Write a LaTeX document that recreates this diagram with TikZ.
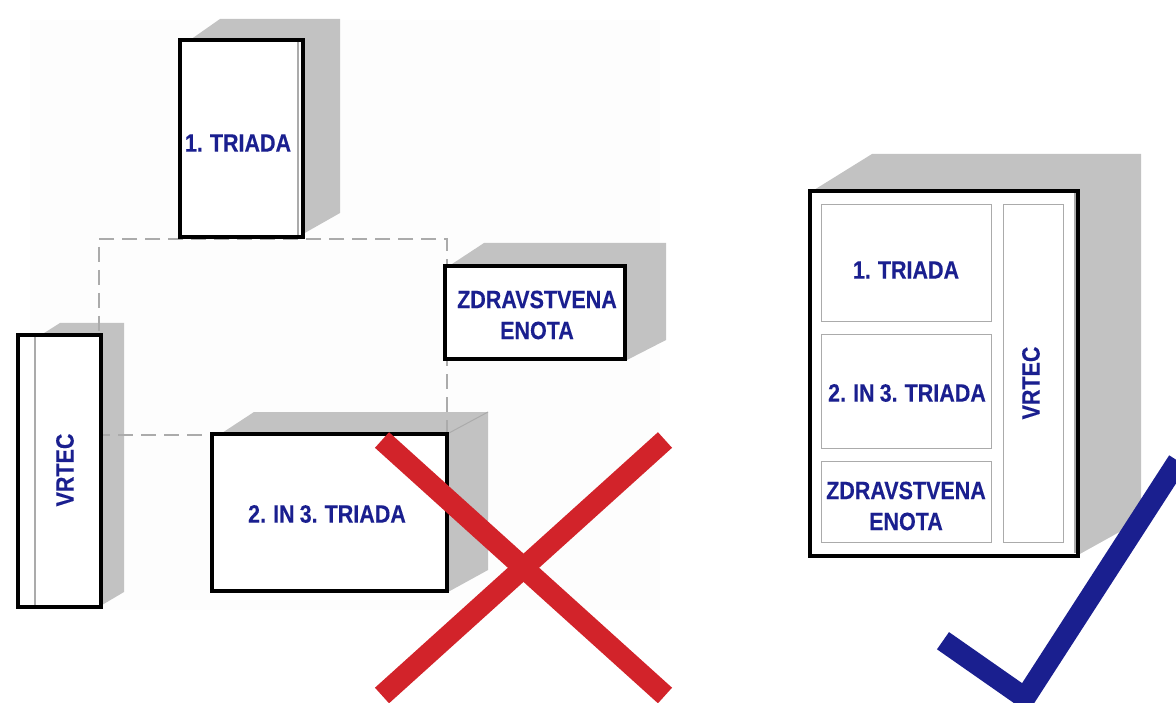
\documentclass[tikz,border=0pt]{standalone}
\usepackage{fontspec}
\setmainfont{Liberation Sans}[FakeStretch=0.86,WordSpace=0.85,BoldFeatures={FakeBold=0.2}]
\definecolor{lab}{HTML}{1A1F8F}
\definecolor{shade}{HTML}{C2C2C2}
\definecolor{xred}{HTML}{D2232A}
\definecolor{thinc}{HTML}{ABABAB}
\tikzset{
 heavybox/.style={draw=black,line width=4pt,fill=white,minimum width=#1,inner sep=0pt,anchor=north west,rectangle},
 thinbox/.style={draw=thinc,line width=1.2pt,fill=white,inner sep=0pt,anchor=north west,rectangle,align=center},
 lbl/.style={text=lab,font=\fontsize{25}{31}\selectfont\bfseries,align=center,inner sep=0pt},
 depth/.style={fill=shade,draw=none},
 guide/.style={draw=thinc,line width=1.1pt,dash pattern=on 15pt off 8pt},
 bar/.style={line width=21pt,line cap=butt}
}
\begin{document}
\begin{tikzpicture}[x=1pt,y=-1pt]
\useasboundingbox (0,0) rectangle (1176,703);
\fill[white] (0,0) rectangle (1176,703);
\fill[black!0.6] (30,20) rectangle (660,610);
% depth faces
\fill[depth] (190,40) -- (220,19) -- (340,19) -- (340,213) -- (303,234) -- cycle;
\fill[depth] (449,266) -- (484,243) -- (666,243) -- (666,340) -- (625,361) -- cycle;
\fill[depth] (41,335) -- (60,323) -- (124,323) -- (124,592) -- (102,605) -- cycle;
\fill[depth] (222,433) -- (254,412) -- (488,412) -- (488,570) -- (448,592) -- cycle;
\fill[depth] (814,190) -- (872,154) -- (1141,154) -- (1141,520) -- (1078,555) -- cycle;
% dashed outline
\coordinate (g1) at (99,239); \coordinate (g2) at (447,239);
\coordinate (g3) at (447,435); \coordinate (g4) at (99,435);
\draw[guide] (g3) -- (g2) -- (g1) -- (g4) -- (g3);
\draw[thinc,line width=1pt] (449,433) -- (488,412);
% left boxes
\node[heavybox=123pt,minimum height=197pt] (t1) at (178,38) {};
\draw[thinc,line width=1.5pt] (298,42) -- (298,235);
\node[lbl] at (238,143) {1. TRIADA};
\node[heavybox=180pt,minimum height=93pt] (zd) at (443,264) {};
\node[lbl] at (537,315) {ZDRAVSTVENA\\ENOTA};
\node[heavybox=83pt,minimum height=272pt] (vr) at (16,333) {};
\draw[thinc,line width=1.2pt] (35,337) -- (35,605);
\node[lbl,rotate=90] at (65,470) {VRTEC};
\node[heavybox=235pt,minimum height=157pt] (t23) at (210,432) {};
\node[lbl] at (327,514) {2. IN 3. TRIADA};
% right box
\node[heavybox=268pt,minimum height=365pt] (all) at (808,189) {};
\draw[thinc,line width=1.2pt] (1075,193) -- (1075,553);
\node[thinbox,minimum width=170pt,minimum height=117pt] (a1) at (821,204) {};
\node[thinbox,minimum width=170pt,minimum height=114pt] (a2) at (821,334) {};
\node[thinbox,minimum width=170pt,minimum height=81pt] (a3) at (821,461) {};
\node[thinbox,minimum width=60pt,minimum height=338pt] (a4) at (1003,204) {};
\node[lbl] at (906,270) {1. TRIADA};
\node[lbl] at (907,393) {2. IN 3. TRIADA};
\node[lbl] at (906,506) {ZDRAVSTVENA\\ENOTA};
\node[lbl,rotate=90] at (1031,383) {VRTEC};
% marks
\draw[bar,xred] (382,440) -- (665,695.5);
\draw[bar,xred] (665,440) -- (382,695.5);
\draw[bar,lab,line join=miter] (943,640.7) -- (1025,698) -- (1178,461);
\end{tikzpicture}
\end{document}
